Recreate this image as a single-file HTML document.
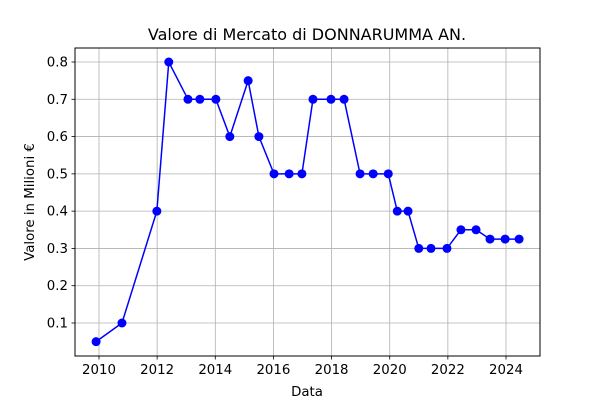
<!DOCTYPE html>
<html><head><meta charset="utf-8"><style>
body{margin:0;background:#fff;}
svg{display:block;font-family:"DejaVu Sans","Liberation Sans",sans-serif;}
</style></head><body>
<svg id="chart" width="600" height="400" viewBox="0 0 600 400">
<rect width="600" height="400" fill="#fff"/>
<g id="grid"></g>
<g id="ticks"></g>
<rect x="75" y="48" width="465" height="308" fill="none" stroke="#000" stroke-width="1"/>
<g id="series"></g>
<text x="307" y="40" text-anchor="middle" font-size="16">Valore di Mercato di DONNARUMMA AN.</text>
<text x="307" y="396" text-anchor="middle" font-size="13.33">Data</text>
<text transform="translate(34,202) rotate(-90)" text-anchor="middle" font-size="13.33">Valore in Milioni €</text>
</svg>
<script>
const years=[2009.9,2010.79,2011.99,2012.4,2013.06,2013.47,2014.02,2014.5,2015.13,2015.5,2016.02,2016.54,2016.98,2017.36,2017.98,2018.43,2018.98,2019.43,2019.95,2020.26,2020.63,2021.0,2021.42,2021.97,2022.45,2022.97,2023.45,2023.97,2024.45];
const values=[0.05,0.1,0.4,0.8,0.7,0.7,0.7,0.6,0.75,0.6,0.5,0.5,0.5,0.7,0.7,0.7,0.5,0.5,0.5,0.4,0.4,0.3,0.3,0.3,0.35,0.35,0.325,0.325,0.325];
const xTicks=[2010,2012,2014,2016,2018,2020,2022,2024];
const yTicks=[0.1,0.2,0.3,0.4,0.5,0.6,0.7,0.8];
const NS="http://www.w3.org/2000/svg";
function xs(v){return 99+(v-2010)*(506-99)/14;}
function ys(v){return 323-(v-0.1)*(323-62)/0.7;}
function mk(tag,attrs,parent){const e=document.createElementNS(NS,tag);for(const k in attrs)e.setAttribute(k,attrs[k]);parent.appendChild(e);return e;}
const grid=document.getElementById('grid'),ticks=document.getElementById('ticks'),series=document.getElementById('series');
xTicks.forEach(t=>{const x=xs(t);
 const g=mk('line',{x1:x,x2:x,y1:48,y2:356,stroke:'#b0b0b0','stroke-width':0.8},grid);
 
 
 const tk=mk('line',{x1:x,x2:x,y1:356,y2:359.5,stroke:'#000','stroke-width':0.8},ticks);
 
 
 const l=mk('text',{x:x,y:374,'text-anchor':'middle','font-size':13.33},ticks);l.textContent=t;
 
 
});
yTicks.forEach(t=>{const y=ys(t);
 const g=mk('line',{x1:75,x2:540,y1:y,y2:y,stroke:'#b0b0b0','stroke-width':0.8},grid);
 
 
 const tk=mk('line',{x1:71.5,x2:75,y1:y,y2:y,stroke:'#000','stroke-width':0.8},ticks);
 
 
 const l=mk('text',{x:68,y:y+4.5,'text-anchor':'end','font-size':13.33},ticks);l.textContent=t.toFixed(1);
 
 
});
const pts=years.map((yr,i)=>xs(yr)+','+ys(values[i])).join(' ');
const line=mk('polyline',{points:pts,fill:'none',stroke:'#0000ff','stroke-width':1.5},series);


years.forEach((yr,i)=>{const c=mk('circle',{cx:xs(yr),cy:ys(values[i]),r:4.5,fill:'#0000ff'},series);
 
 
});
</script>
</body></html>
